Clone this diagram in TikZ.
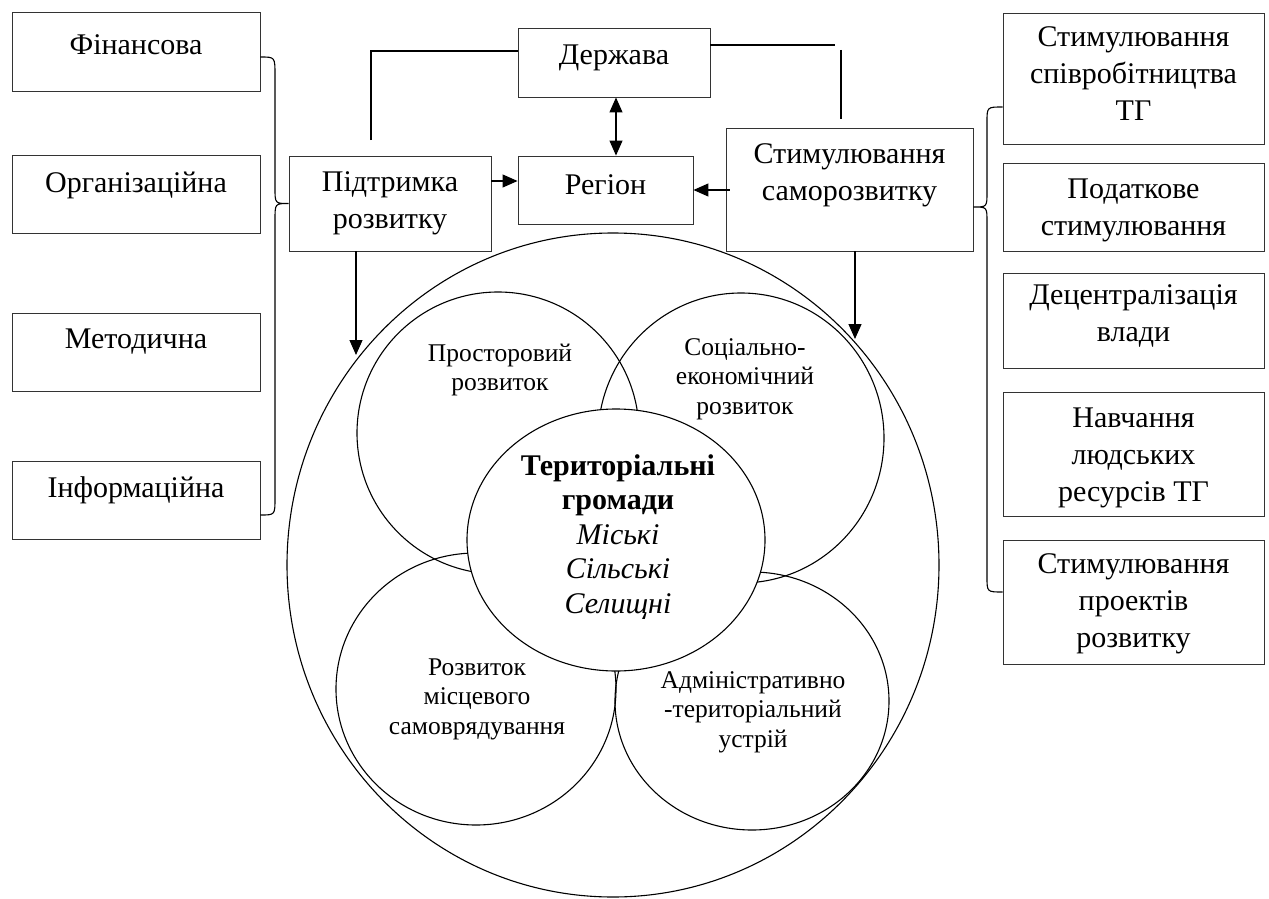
\documentclass[tikz,border=0pt]{standalone}
\usepackage{fontspec}
\setmainfont{Liberation Serif}
\usetikzlibrary{arrows.meta,shapes.geometric}
\begin{document}
\begin{tikzpicture}[x=1pt,y=-1pt,
  bx/.style={draw=black!80, line width=0.9pt, inner sep=0pt},
  tx/.style={align=center, inner sep=0pt, font=\fontsize{30}{37}\selectfont},
  ctx/.style={align=center, inner sep=0pt, font=\fontsize{25.5}{29.5}\selectfont},
  mtx/.style={align=center, inner sep=0pt, font=\fontsize{30}{34.5}\selectfont},
  ring/.style={draw, line width=1.1pt, ellipse, inner sep=0pt},
  ln/.style={line width=1.1pt},
  arr/.style={line width=1.2pt, -{Triangle[length=15pt,width=13pt]}},
  darr/.style={line width=1.2pt, {Triangle[length=15pt,width=13pt]}-{Triangle[length=15pt,width=13pt]}},
]
\useasboundingbox (0,0) rectangle (1269,899);

% left boxes
\node[bx, minimum width=248pt, minimum height=79pt] (fin) at (136,51.5) {};
\node[tx] (finT) at (136,45) {Фінансова};
\node[bx, minimum width=248pt, minimum height=78pt] (org) at (136,194) {};
\node[tx] (orgT) at (136,185) {Організаційна};
\node[bx, minimum width=248pt, minimum height=78pt] (met) at (136,352) {};
\node[tx] (metT) at (136,342) {Методична};
\node[bx, minimum width=248pt, minimum height=78pt] (inf) at (136,500) {};
\node[tx] (infT) at (136,490) {Інформаційна};

% central boxes
\node[bx, minimum width=202pt, minimum height=95pt] (pid) at (390,203.5) {};
\node[tx] (pidT) at (390,203.5) {Підтримка\\розвитку};
\node[bx, minimum width=192pt, minimum height=69pt] (derz) at (614,62.5) {};
\node[tx] (derzT) at (614,58) {Держава};
\node[bx, minimum width=175pt, minimum height=68pt] (reg) at (605.5,190) {};
\node[tx] (regT) at (605.5,185) {Регіон};
\node[bx, minimum width=247pt, minimum height=123pt] (sam) at (849.5,189.5) {};
\node[tx] (samT) at (849.5,175) {Стимулювання\\саморозвитку};

% right boxes
\node[bx, minimum width=261pt, minimum height=131pt] (r1) at (1133.5,78.5) {};
\node[tx] (r1T) at (1133.5,74) {Стимулювання\\співробітництва\\ТГ};
\node[bx, minimum width=261pt, minimum height=88pt] (r2) at (1133.5,207) {};
\node[tx] (r2T) at (1133.5,210) {Податкове\\стимулювання};
\node[bx, minimum width=261pt, minimum height=95pt] (r3) at (1133.5,320.5) {};
\node[tx] (r3T) at (1133.5,316) {Децентралізація\\влади};
\node[bx, minimum width=261pt, minimum height=124pt] (r4) at (1133.5,454) {};
\node[tx] (r4T) at (1133.5,458) {Навчання\\людських\\ресурсів ТГ};
\node[bx, minimum width=261pt, minimum height=124pt] (r5) at (1133.5,602) {};
\node[tx] (r5T) at (1133.5,604) {Стимулювання\\проектів\\розвитку};

% circles
\node[ring, minimum width=652pt, minimum height=664pt] (outer) at (613,565) {};
\node[ring, minimum width=282pt, minimum height=282pt] (tl) at (498,433) {};
\node[ring, minimum width=286pt, minimum height=290pt] (tr) at (741,438) {};
\node[ring, minimum width=280pt, minimum height=272pt] (bl) at (476,689) {};
\node[ring, minimum width=274pt, minimum height=258pt] (br) at (752,701) {};
\node[ring, fill=white, minimum width=298pt, minimum height=262pt] (cc) at (616,540) {};

\node[ctx] (tlT) at (500,370) {Просторовий\\розвиток};
\node[ctx] (trT) at (745,379) {Соціально-\\економічний\\розвиток};
\node[ctx] (blT) at (477,699) {Розвиток\\місцевого\\самоврядування};
\node[ctx] (brT) at (753,712) {Адміністративно\\-територіальний\\устрій};
\node[mtx] (ccT) at (618,537) {\textbf{Територіальні}\\\textbf{громади}\\\textit{Міські}\\\textit{Сільські}\\\textit{Селищні}};

% top connectors
\coordinate (pidUp) at (371,140);
\coordinate (tlc) at (371,51);
\draw[ln] (pidUp) -- (tlc) -- (tlc -| derz.west);
\coordinate (trc) at (835,45);
\draw[ln] (derz.east |- trc) -- (trc);
\coordinate (rv1) at (841,50);
\coordinate (rv2) at (841,119);
\draw[ln] (rv1) -- (rv2);

% arrows
\coordinate (dx) at (616,0);
\draw[darr] (derz.south -| dx) -- (reg.north -| dx);
\coordinate (pr) at (0,181);
\draw[arr] (pid.east |- pr) -- (reg.west |- pr);
\draw[arr] ([xshift=4pt]sam.west |- reg.east) -- (reg.east);
\coordinate (pd) at (356,355);
\draw[arr] (pid.south -| pd) -- (pd);
\coordinate (sd) at (855,339);
\draw[arr] (sam.south -| sd) -- (sd);

% braces
\draw[ln] ([yshift=-5.5pt]fin.east) .. controls (275,57) .. (275,75) -- (275,188)
  .. controls (275,203.5) .. (pid.west) .. controls (275,203.5) .. (275,220)
  -- (275,498) .. controls (275,515) .. ([yshift=-15pt]inf.east);
\draw[ln] ([yshift=-28.5pt]r1.west) .. controls (987,107) .. (987,122) -- (987,192)
  .. controls (987,207) .. ([yshift=-17.5pt]sam.east) .. controls (987,207) .. (987,222)
  -- (987,577) .. controls (987,592) .. ([yshift=10pt]r5.west);
\end{tikzpicture}
\end{document}
